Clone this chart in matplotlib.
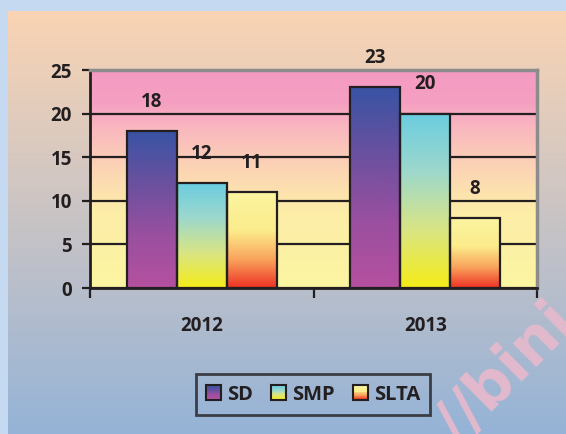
import matplotlib.pyplot as plt
import numpy as np
from matplotlib.colors import LinearSegmentedColormap
from matplotlib.patches import Patch, Rectangle
from matplotlib.legend_handler import HandlerBase

plt.rcParams['font.family'] = ['Open Sans', 'DejaVu Sans']

# data
years = ['2012', '2013']
series = ['SD', 'SMP', 'SLTA']
sd = [18, 23]
smp = [12, 20]
slta = [11, 8]
values = [sd, smp, slta]

txt = '#231f20'
fs = 13.5

# gradientes (de baixo para cima)
cmaps = [
    LinearSegmentedColormap.from_list('sd', ['#b5519f', '#9a4f9f', '#6a519f', '#3953a4']),
    LinearSegmentedColormap.from_list('smp', ['#f5ec18', '#d9e584', '#9dd8cc', '#6bcde0']),
    LinearSegmentedColormap.from_list('slta', [(0, '#ee3124'), (0.3, '#f9a45c'),
                                               (0.6, '#fcec8c'), (1, '#fbf4a0')]),
]
area_cmap = LinearSegmentedColormap.from_list('area', [(0, '#fbf5a1'), (0.35, '#fdeda8'),
                                                       (0.55, '#fcd4b5'), (0.75, '#f9b5c0'),
                                                       (0.85, '#f5a0c2'), (1, '#f49ac1')])
bg_cmap = LinearSegmentedColormap.from_list('bg', ['#95b3d7', '#fad4b4'])

grad = np.linspace(0, 1, 256).reshape(-1, 1)


class GradHandler(HandlerBase):
    def __init__(self, cmap):
        super().__init__()
        self.cmap = cmap

    def create_artists(self, legend, orig_handle, xdescent, ydescent, width, height, fontsize, trans):
        s = min(width, height)
        x0 = -xdescent + (width - s) / 2
        y0 = -ydescent + (height - s) / 2
        n = 16
        arts = []
        for i in range(n):
            arts.append(Rectangle((x0, y0 + i * s / n), s, s / n + 0.2, facecolor=self.cmap(i / (n - 1)),
                                  lw=0, transform=trans))
        arts.append(Rectangle((x0, y0), s, s, fill=False, edgecolor=txt, lw=1.5, transform=trans))
        return arts


fig = plt.figure(figsize=(5.66, 4.34), dpi=100)
fig.patch.set_facecolor('#c5d9f1')

# fundo da figura
bg = fig.add_axes([8 / 566, 0, 1 - 8 / 566, 1 - 11 / 434], zorder=-10)
bg.imshow(grad, cmap=bg_cmap, aspect='auto', extent=[0, 1, 0, 1], origin='lower')
bg.axis('off')

ax = fig.add_axes([90 / 566, 1 - 288 / 434, (537 - 90) / 566, (288 - 70) / 434])
ax.patch.set_alpha(0)
ax.imshow(grad, cmap=area_cmap, aspect='auto', extent=[-0.5, 1.5, 0, 25], origin='lower', zorder=0)

x = np.arange(len(years))
width = 50 / 224
for k, (vals, cm) in enumerate(zip(values, cmaps)):
    bars = ax.bar(x + (k - 1) * width, vals, width, facecolor='none', edgecolor=txt, lw=1.6, zorder=3)
    for rect, v in zip(bars, vals):
        x0 = rect.get_x()
        im = ax.imshow(grad, cmap=cm, aspect='auto', origin='lower',
                       extent=[x0, x0 + width, 0, v], zorder=2.5)
        im.set_clip_path(rect)
        ax.annotate(str(v), (x0 + width / 2, v), xytext=(0, 21), textcoords='offset points',
                    ha='center', va='center', fontsize=fs, fontweight='bold', color=txt)

ax.set_xlim(-0.5, 1.5)
ax.set_ylim(0, 25)
ax.set_yticks([0, 5, 10, 15, 20, 25])
ax.yaxis.grid(True, color=txt, lw=1.6)
ax.set_axisbelow(True)

ax.set_xticks([-0.5, 0.5, 1.5])
ax.set_xticklabels([])
ax.set_xticks(x, minor=True)
ax.set_xticklabels(years, minor=True)
ax.tick_params(axis='x', which='major', length=7, width=1.6, color=txt, direction='out')
ax.tick_params(axis='x', which='minor', length=0, pad=20, labelsize=fs, labelcolor=txt)
ax.tick_params(axis='y', length=6, width=1.6, color=txt, direction='out', pad=7,
               labelsize=fs, labelcolor=txt)
for lab in ax.get_xticklabels(minor=True) + ax.get_yticklabels():
    lab.set_fontweight('bold')

for s in ['left', 'bottom']:
    ax.spines[s].set_color(txt)
    ax.spines[s].set_linewidth(2)
for s in ['top', 'right']:
    ax.spines[s].set_color('#8c8c8c')
    ax.spines[s].set_linewidth(2.5)

handles = [Patch(label=s) for s in series]
leg = fig.legend(handles, series, loc='center', bbox_to_anchor=(313 / 566, 1 - 394.5 / 434), ncol=3,
                 handler_map={h: GradHandler(c) for h, c in zip(handles, cmaps)},
                 frameon=True, fancybox=False, edgecolor=txt, facecolor='none',
                 handlelength=0.75, handleheight=0.75, handletextpad=0.3, columnspacing=0.9,
                 borderpad=0.5, prop={'weight': 'bold', 'size': 14.5})
leg.get_frame().set_linewidth(2)
for t in leg.get_texts():
    t.set_color(txt)

# marca d'agua
fig.text(458 / 566, 1 - 446 / 434, '//bini', rotation=45, rotation_mode='anchor',
         ha='left', va='baseline', fontsize=43, fontweight='bold', color='#e2b9cc',
         family='DejaVu Sans', zorder=-5)

fig.savefig('out.png', dpi=100)
